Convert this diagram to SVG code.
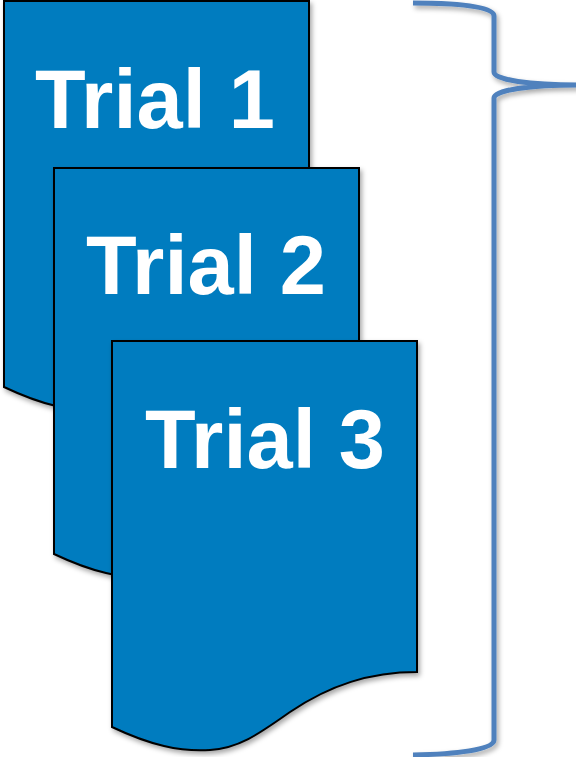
<svg xmlns="http://www.w3.org/2000/svg" xmlns:xlink="http://www.w3.org/1999/xlink" width="576" height="757" viewBox="0 0 576 757">
  <style>
    .doc { fill: #027CBF; stroke: #000; stroke-width: 2; filter: url(#shadow); }
    .lbl { font-family: "Liberation Sans", Arial, sans-serif; font-weight: bold; font-size: 83px; fill: #fff; }
    .brace { fill: none; stroke: #4F81BD; stroke-width: 5; filter: url(#shadow); }
  </style>
  <defs>
    <filter id="shadow" x="-10%" y="-10%" width="130%" height="130%">
      <feDropShadow dx="2" dy="3" stdDeviation="2.5" flood-color="#000" flood-opacity="0.35"/>
    </filter>
    <path id="docShape" d="M0,0 H305 V331 C258,331 218,344 178,371 C148,392 128,407 98,409 C68,411 38,404 0,386 Z"/>
  </defs>
  <g id="trial1">
    <use xlink:href="#docShape" href="#docShape" class="doc" transform="translate(4,1)"/>
    <text class="lbl" x="35" y="128">Trial 1</text>
  </g>
  <g id="trial2">
    <use xlink:href="#docShape" href="#docShape" class="doc" transform="translate(54,168)"/>
    <text class="lbl" x="86" y="294">Trial 2</text>
  </g>
  <g id="trial3">
    <use xlink:href="#docShape" href="#docShape" class="doc" transform="translate(112,341)"/>
    <text class="lbl" x="145" y="468">Trial 3</text>
  </g>
  <g id="connectors">
    <path id="brace" class="brace" d="M413,3 C455,3 494,6 494,16 L494,72 C494,80 530,85 578,85 C530,85 494,90 494,98 L494,740 C494,750 455,754 413,755"/>
  </g>
</svg>
